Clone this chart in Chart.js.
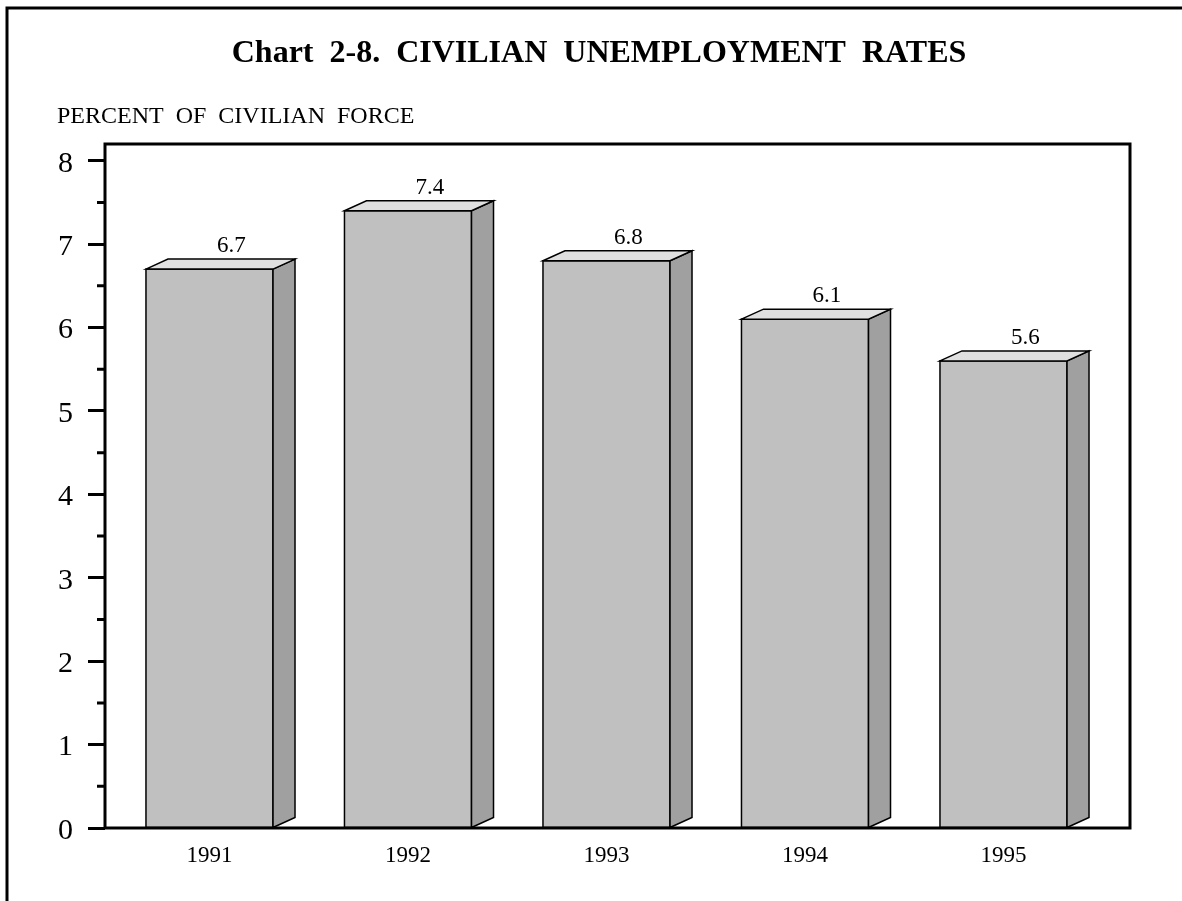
<!DOCTYPE html>
<html>
<head>
<meta charset="utf-8">
<title>Civilian Unemployment Rates</title>
<script src="https://cdn.jsdelivr.net/npm/chart.js@4.4.0/dist/chart.umd.min.js"></script>
<style>
  html, body { margin: 0; padding: 0; background: #fff; }
  #wrap { width: 1182px; height: 901px; }
</style>
</head>
<body>
<div id="wrap"><canvas id="rateChart" width="1182" height="901"></canvas></div>
<script>
const years = ['1991', '1992', '1993', '1994', '1995'];
const rates = [6.7, 7.4, 6.8, 6.1, 5.6];
const yTicks = [0, 1, 2, 3, 4, 5, 6, 7, 8];
const chartTitle = 'Chart  2-8.  CIVILIAN  UNEMPLOYMENT  RATES';
const axisTitle = 'PERCENT  OF  CIVILIAN  FORCE';

const serif = "'Liberation Serif', 'Times New Roman', serif";
const DX = 22, DY = 10; // depth of the fake 3D boxes

// page frame, headings, 3D sides of the bars, value labels, plot frame
const box3d = {
    id: 'box3d',
    beforeDraw(chart) {
        const ctx = chart.ctx;
        ctx.save();
        ctx.fillStyle = '#fff';
        ctx.fillRect(0, 0, chart.width, chart.height);
        ctx.strokeStyle = '#000';
        ctx.lineWidth = 3;
        ctx.beginPath();
        ctx.moveTo(7, chart.height);
        ctx.lineTo(7, 8);
        ctx.lineTo(chart.width, 8);
        ctx.stroke();

        ctx.fillStyle = '#000';
        ctx.textBaseline = 'alphabetic';
        ctx.textAlign = 'center';
        ctx.font = 'bold 32px ' + serif;
        ctx.fillText(chartTitle, 599, 62);
        ctx.textAlign = 'left';
        ctx.font = '24px ' + serif;
        ctx.fillText(axisTitle, 57, 123);
        ctx.restore();
    },
    afterDatasetsDraw(chart) {
        const ctx = chart.ctx;
        const area = chart.chartArea;
        const yScale = chart.scales.y;
        const values = chart.data.datasets[0].data;
        ctx.save();
        ctx.lineWidth = 1.5;
        ctx.strokeStyle = '#000';
        chart.getDatasetMeta(0).data.forEach((bar, i) => {
            const { x, y, base, width } = bar.getProps(['x', 'y', 'base', 'width'], true);
            const l = x - width / 2, r = x + width / 2;

            ctx.strokeRect(l, y, width, base - y);

            ctx.fillStyle = '#a0a0a0';
            ctx.beginPath();
            ctx.moveTo(r, y);
            ctx.lineTo(r + DX, y - DY);
            ctx.lineTo(r + DX, base - DY);
            ctx.lineTo(r, base);
            ctx.closePath();
            ctx.fill();
            ctx.stroke();

            ctx.fillStyle = '#e0e0e0';
            ctx.beginPath();
            ctx.moveTo(l, y);
            ctx.lineTo(l + DX, y - DY);
            ctx.lineTo(r + DX, y - DY);
            ctx.lineTo(r, y);
            ctx.closePath();
            ctx.fill();
            ctx.stroke();

            ctx.fillStyle = '#000';
            ctx.font = '23px ' + serif;
            ctx.textAlign = 'center';
            ctx.textBaseline = 'alphabetic';
            ctx.fillText(values[i].y.toFixed(1), x + DX, y - DY - 7);
        });

        // minor ticks halfway between the labelled ones
        ctx.lineWidth = 3;
        ctx.beginPath();
        yTicks.slice(0, -1).forEach(v => {
            const py = yScale.getPixelForValue(v + 0.5);
            ctx.moveTo(area.left - 8, py);
            ctx.lineTo(area.left, py);
        });
        ctx.stroke();

        ctx.strokeRect(area.left, area.top, area.right - area.left, area.bottom - area.top);
        ctx.restore();
    }
};

const ctxRate = document.getElementById('rateChart').getContext('2d');
new Chart(ctxRate, {
    type: 'bar',
    data: {
        datasets: [{
            data: years.map((yr, i) => ({ x: i, y: rates[i] })),
            backgroundColor: '#c0c0c0',
            borderWidth: 0,
            categoryPercentage: 0.8,
            barPercentage: 0.8
        }]
    },
    options: {
        responsive: false,
        animation: false,
        layout: { padding: { top: 144, right: 52, left: 0, bottom: 0 } },
        plugins: {
            legend: { display: false },
            tooltip: { enabled: false }
        },
        scales: {
            x: {
                type: 'linear',
                offset: false,
                min: -0.5264,
                max: 4.6373,
                afterBuildTicks: s => { s.ticks = years.map((yr, i) => ({ value: i })); },
                afterFit: s => { s.height = 73; },
                grid: { display: true, offset: false, drawOnChartArea: false, drawTicks: false },
                border: { display: false },
                ticks: {
                    padding: 14,
                    color: '#000',
                    font: { family: serif, size: 23 },
                    callback: v => years[v]
                }
            },
            y: {
                min: 0,
                max: 8.2,
                afterBuildTicks: s => { s.ticks = yTicks.map(v => ({ value: v })); },
                afterFit: s => { s.width = 105; },
                grid: { drawOnChartArea: false, tickLength: 17, tickWidth: 3, tickColor: '#000' },
                border: { display: false },
                ticks: {
                    padding: 15,
                    labelOffset: 3,
                    color: '#000',
                    font: { family: serif, size: 30 }
                }
            }
        }
    },
    plugins: [box3d]
});
</script>
</body>
</html>
